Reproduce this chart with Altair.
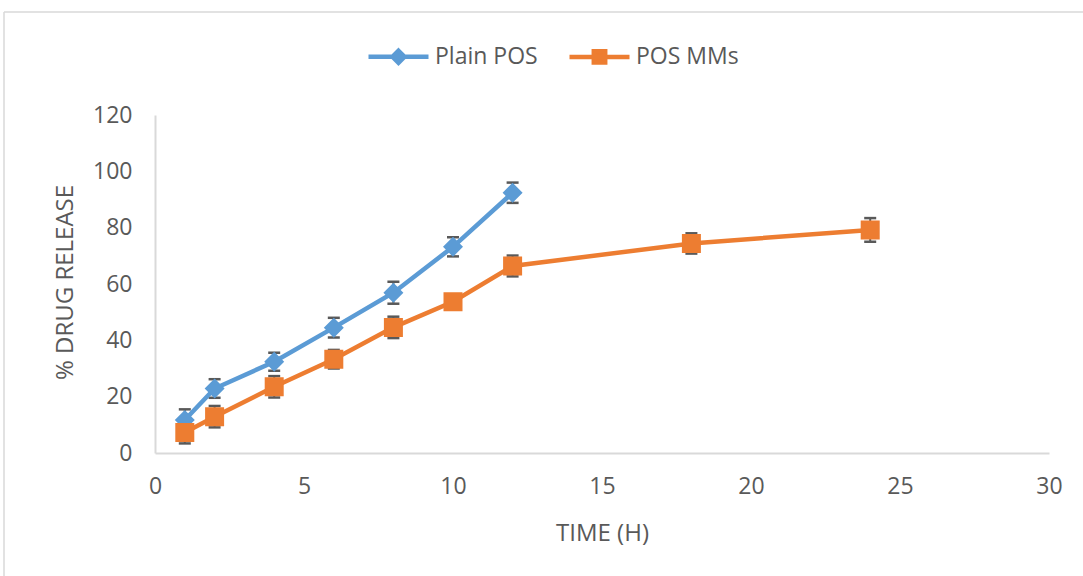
import altair as alt
import pandas as pd

# Cumulative drug release (%) with standard deviations
time_plain = [1, 2, 4, 6, 8, 10, 12]
release_plain = [11.7, 22.9, 32.4, 44.5, 56.9, 73.2, 92.4]
sd_plain = [3.8, 3.3, 3.2, 3.5, 3.9, 3.4, 3.6]

time_mms = [1, 2, 4, 6, 8, 10, 12, 18, 24]
release_mms = [7.3, 12.9, 23.5, 33.3, 44.6, 53.7, 66.4, 74.4, 79.2]
sd_mms = [3.9, 3.8, 3.8, 3.3, 3.8, 2.0, 3.7, 3.6, 4.2]

series_names = ["Plain POS", "POS MMs"]
series_colors = ["#5B9BD5", "#ED7D31"]
# marker paths: a short line segment plus the marker, so the legend shows both
series_shapes = [
    "M-1,0H1M0,-0.2L0.2,0L0,0.2L-0.2,0Z",
    "M-1,0H1M-0.19,-0.19H0.19V0.19H-0.19Z",
]

x_ticks = [0, 5, 10, 15, 20, 25, 30]
y_ticks = [0, 20, 40, 60, 80, 100, 120]

TEXT = "#595959"
AXIS = "#D9D9D9"
FONT = "Open Sans"

rows = []
for t, v, s in zip(time_plain, release_plain, sd_plain):
    rows.append({"time": t, "release": v, "lo": v - s, "hi": v + s, "series": series_names[0]})
for t, v, s in zip(time_mms, release_mms, sd_mms):
    rows.append({"time": t, "release": v, "lo": v - s, "hi": v + s, "series": series_names[1]})
df = pd.DataFrame(rows)

x_enc = alt.X(
    "time:Q",
    scale=alt.Scale(domain=[0, 30], nice=False),
    axis=alt.Axis(
        values=x_ticks, title="TIME (H)", grid=False, ticks=False,
        domainColor=AXIS, domainWidth=2, labelPadding=22, labelFlush=False,
        titleY=80, titleBaseline="middle",
    ),
)
y_enc = alt.Y(
    "release:Q",
    scale=alt.Scale(domain=[0, 120], nice=False),
    axis=alt.Axis(
        values=y_ticks, title="% DRUG RELEASE", grid=False, ticks=False,
        domainColor=AXIS, domainWidth=2, labelPadding=23, labelFlush=False,
        titleX=-90, titleY=167, titleAngle=270, titleBaseline="middle",
    ),
)

color_scale = alt.Scale(domain=series_names, range=series_colors)
shape_scale = alt.Scale(domain=series_names, range=series_shapes)

legend = alt.Legend(
    title=None, orient="none", direction="horizontal",
    legendX=211, legendY=-91,
    labelFont=FONT, labelFontSize=23, labelColor=TEXT,
    symbolSize=3600, symbolStrokeWidth=4.5, labelOffset=4, columnPadding=22,
)

base = alt.Chart(df)

err_stem = base.mark_rule(color="#595959", strokeWidth=2).encode(
    x="time:Q", y="lo:Q", y2="hi:Q"
)
err_top = base.mark_rule(color="#595959", strokeWidth=2.5, xOffset=-6, x2Offset=6).encode(
    x="time:Q", x2="time:Q", y="hi:Q"
)
err_bot = base.mark_rule(color="#595959", strokeWidth=2.5, xOffset=-6, x2Offset=6).encode(
    x="time:Q", x2="time:Q", y="lo:Q"
)

lines = base.mark_line(strokeWidth=4.5).encode(
    x=x_enc, y=y_enc,
    color=alt.Color("series:N", scale=color_scale, legend=legend),
)

points = base.mark_point(filled=True, opacity=1, size=10000, strokeWidth=0).encode(
    x="time:Q", y="release:Q",
    color=alt.Color("series:N", scale=color_scale, legend=legend),
    stroke=alt.Stroke("series:N", scale=color_scale, legend=legend),
    shape=alt.Shape("series:N", scale=shape_scale, legend=legend),
)

frame_src = pd.DataFrame({"k": [0]})
frame_top = alt.Chart(frame_src).mark_rule(color=AXIS, strokeWidth=1.5).encode(
    x=alt.value(-151), x2=alt.value(1200), y=alt.value(-103)
)
frame_left = alt.Chart(frame_src).mark_rule(color=AXIS, strokeWidth=1.5).encode(
    x=alt.value(-151), y=alt.value(-103), y2=alt.value(700)
)

chart = (
    alt.layer(frame_top, frame_left, err_stem, err_top, err_bot, lines, points)
    .properties(
        width=894, height=338,
        autosize=alt.AutoSizeParams(type="none"),
        padding={"left": 155, "top": 115, "right": 34, "bottom": 123},
        background="white",
    )
    .configure_view(stroke=None)
    .configure_axis(
        labelFont=FONT, labelFontSize=23, labelColor=TEXT,
        titleFont=FONT, titleFontSize=24, titleColor=TEXT, titleFontWeight="normal",
    )
)

chart.save("out.html", embed_options={"renderer": "svg", "actions": False})
